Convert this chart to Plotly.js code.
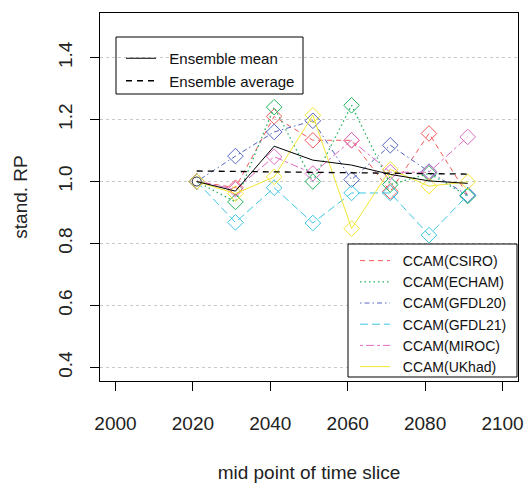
<!DOCTYPE html>
<html>
<head>
<meta charset="utf-8">
<script src="https://cdn.plot.ly/plotly-3.0.1.min.js"></script>
<style>html,body{margin:0;padding:0;background:#fff;}#chart{width:528px;height:483px;}</style>
</head>
<body>
<div id="chart"></div>
<script>
// ---- data ----
var years = [2021, 2031, 2041, 2051, 2061, 2071, 2081, 2091];
var seriesNames = ["CCAM(CSIRO)", "CCAM(ECHAM)", "CCAM(GFDL20)", "CCAM(GFDL21)", "CCAM(MIROC)", "CCAM(UKhad)"];
var csiro  = [1.000, 0.980, 1.210, 1.133, 1.133, 0.968, 1.155, 0.956];
var echam  = [1.000, 0.934, 1.240, 1.000, 1.246, 0.990, 1.026, 0.953];
var gfdl20 = [1.000, 1.082, 1.160, 1.196, 1.006, 1.117, 1.032, 0.956];
var gfdl21 = [1.000, 0.868, 0.980, 0.866, 0.963, 0.963, 0.827, 0.956];
var miroc  = [1.000, 0.975, 1.080, 1.026, 1.133, 1.030, 1.030, 1.144];
var ukhad  = [1.000, 0.961, 1.015, 1.214, 0.848, 1.039, 0.985, 0.999];
var ensMean = [1.000, 0.969, 1.114, 1.069, 1.053, 1.023, 1.002, 0.994];
var avgYears = [2021, 2091];
var ensAverage = [1.034, 1.024];
var xTicks = [2000, 2020, 2040, 2060, 2080, 2100];
var yTicks = [0.4, 0.6, 0.8, 1.0, 1.2, 1.4];

// ---- styles ----
var seriesValues = [csiro, echam, gfdl20, gfdl21, miroc, ukhad];
var colors = ["#F25A5A", "#22B35C", "#5566C2", "#3CC6E2", "#E06CC4", "#F2E632"];
var dashes = ["5px,4px", "1.5px,3px", "1.5px,3px,5px,3px", "8px,4px", "3px,3px,8px,3px", "solid"];
var FONT = "Liberation Sans, Arial, sans-serif";
var NB = "\u00a0";

var traces = [];
for (var i = 0; i < seriesNames.length; i++) {
  traces.push({
    x: years, y: seriesValues[i], type: "scatter", mode: "lines",
    name: NB + NB + seriesNames[i], legend: "legend2",
    line: {color: colors[i], width: (i === 1 ? 1.3 : 1), dash: dashes[i]},
    hoverinfo: "skip"
  });
  traces.push({
    x: years, y: seriesValues[i], type: "scatter", mode: "markers",
    showlegend: false,
    marker: {symbol: "diamond-open", size: 12, color: colors[i], line: {width: 1, color: colors[i]}},
    hoverinfo: "skip"
  });
}
traces.push({
  x: years, y: ensMean, type: "scatter", mode: "lines",
  name: NB + NB + "Ensemble mean", legend: "legend",
  line: {color: "#000000", width: 1, dash: "solid"}
});
traces.push({
  x: years.slice(0, 1), y: ensMean.slice(0, 1), type: "scatter", mode: "markers",
  showlegend: false,
  marker: {symbol: "circle-open", size: 9, color: "#333333", line: {width: 1, color: "#333333"}}
});
traces.push({
  x: avgYears, y: ensAverage, type: "scatter", mode: "lines",
  name: NB + NB + "Ensemble average", legend: "legend",
  line: {color: "#000000", width: 1.3, dash: "6px,5px"}
});

// plot area in px: left 100, right 518, top 13, bottom 381
var PL = 100, PR = 518, PT = 13, PB = 381;
function px(x) { return (x - PL) / (PR - PL); }
function py(y) { return (PB - y) / (PB - PT); }

var layout = {
  width: 528, height: 483,
  margin: {l: PL, r: 528 - PR, t: PT, b: 483 - PB, pad: 0},
  paper_bgcolor: "#ffffff", plot_bgcolor: "#ffffff",
  font: {family: FONT, size: 19, color: "#222222"},
  showlegend: true,
  xaxis: {
    range: [1996, 2104], tickmode: "array", tickvals: xTicks, ticktext: xTicks.map(String),
    showgrid: false, zeroline: false,
    showline: true, mirror: true, linecolor: "#000000", linewidth: 1,
    ticks: "outside", ticklen: 9, tickcolor: "#000000", tickwidth: 1,
    tickfont: {family: FONT, size: 19, color: "#222222"},
    ticklabelstandoff: 16,
    title: {text: "mid point of time slice", font: {family: FONT, size: 19, color: "#222222"}, standoff: 48}
  },
  yaxis: {
    range: [0.356, 1.544], tickmode: "array", tickvals: yTicks, ticktext: yTicks.map(function(v){return v.toFixed(1);}),
    showgrid: true, gridcolor: "#c8c8c8", griddash: "dot", gridwidth: 1,
    zeroline: false,
    showline: true, mirror: true, linecolor: "#000000", linewidth: 1,
    ticks: "outside", ticklen: 9, tickcolor: "#000000", tickwidth: 1,
    tickangle: -90,
    tickfont: {family: FONT, size: 19, color: "#222222"},
    ticklabelstandoff: 10,
    title: {text: "stand. RP", font: {family: FONT, size: 19, color: "#222222"}, standoff: 22}
  },
  legend: {
    x: px(121), y: py(42), xanchor: "left", yanchor: "top",
    bgcolor: "rgba(0,0,0,0)", borderwidth: 0,
    font: {family: FONT, size: 15, color: "#111111"},
    traceorder: "normal"
  },
  legend2: {
    x: px(355), y: py(245), xanchor: "left", yanchor: "top",
    bgcolor: "rgba(0,0,0,0)", borderwidth: 0,
    font: {family: FONT, size: 14, color: "#111111"},
    traceorder: "normal"
  },
  shapes: [
    {type: "rect", xref: "paper", yref: "paper", x0: px(116), x1: px(303), y0: py(94), y1: py(37),
     line: {color: "#000000", width: 1}, fillcolor: "rgba(255,255,255,1)", layer: "below"},
    {type: "rect", xref: "paper", yref: "paper", x0: px(348), x1: px(517), y0: py(377), y1: py(244),
     line: {color: "#000000", width: 1}, fillcolor: "rgba(255,255,255,1)", layer: "above"}
  ]
};

Plotly.newPlot("chart", traces, layout, {displayModeBar: false, staticPlot: true});
</script>
</body>
</html>
